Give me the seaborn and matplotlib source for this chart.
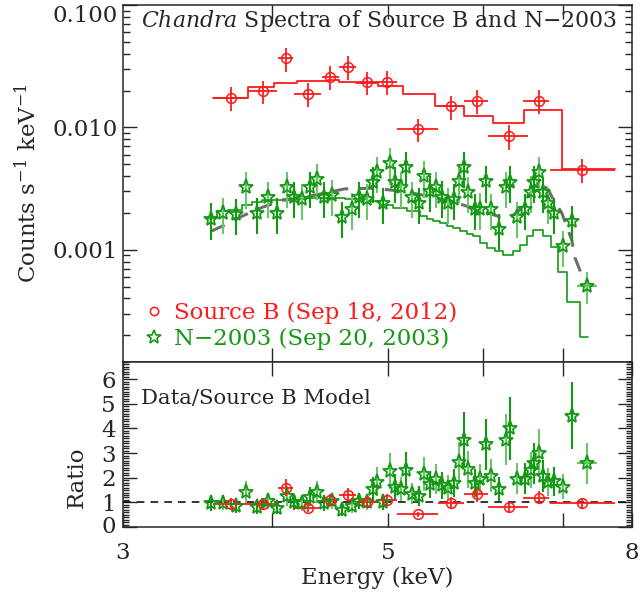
import numpy as np
import pandas as pd
import matplotlib
matplotlib.use("Agg")
import matplotlib.pyplot as plt
import seaborn as sns
from matplotlib.ticker import FixedLocator, FixedFormatter, NullLocator, MultipleLocator, LogLocator, NullFormatter
from matplotlib.lines import Line2D
from matplotlib.transforms import ScaledTranslation

# ---------------- data ----------------
# Source B (red) data points
red_E = [3.694, 3.927, 4.105, 4.283, 4.473, 4.626, 4.801, 4.993, 5.297, 5.644, 5.931, 6.308, 6.692, 7.270]
red_Elo = [3.570, 3.820, 4.042, 4.171, 4.400, 4.549, 4.706, 4.901, 5.084, 5.508, 5.787, 6.065, 6.485, 6.830]
red_Ehi = [3.820, 4.034, 4.165, 4.391, 4.549, 4.700, 4.901, 5.084, 5.508, 5.787, 6.065, 6.551, 6.818, 7.742]
red_flux = [0.01739, 0.01973, 0.03657, 0.01889, 0.02584, 0.03121, 0.02338, 0.0237, 0.00968,
            0.01486, 0.01643, 0.00849, 0.01655, 0.0045]
red_flux_err = [0.0038, 0.0043, 0.0080, 0.0042, 0.0057, 0.0069, 0.0051, 0.0052, 0.0021,
                0.0033, 0.0036, 0.0019, 0.0036, 0.0010]
red_ratio = [0.95, 0.95, 1.60, 0.79, 1.09, 1.30, 1.03, 1.08, 0.51, 0.99, 1.32, 0.80, 1.19, 0.96]
red_ratio_err = [0.21, 0.21, 0.35, 0.17, 0.24, 0.29, 0.23, 0.24, 0.11, 0.22, 0.29, 0.18, 0.26, 0.21]

# Source B model (red step)
red_model_edges = [3.570, 3.815, 4.015, 4.193, 4.456, 4.549, 4.700, 4.901, 5.143, 5.473,
                   5.787, 6.124, 6.497, 6.987, 7.742]
red_model_vals = [0.01739, 0.02156, 0.02295, 0.02396, 0.02428, 0.0237, 0.02295, 0.0218,
                  0.01889, 0.01495, 0.01238, 0.01078, 0.01386, 0.00455]

# N-2003 (green) data points
green_E = [3.552, 3.640, 3.730, 3.803, 3.886, 3.964, 4.039, 4.112, 4.171, 4.238,
           4.302, 4.363, 4.419, 4.488, 4.572, 4.664, 4.727, 4.798, 4.860, 4.898,
           4.954, 5.019, 5.071, 5.126, 5.176, 5.233, 5.304, 5.359, 5.417, 5.484,
           5.544, 5.612, 5.681, 5.736, 5.784, 5.836, 5.908, 5.973, 6.038, 6.093,
           6.188, 6.280, 6.328, 6.406, 6.510, 6.581, 6.628, 6.683, 6.735, 6.805,
           6.879, 7.000, 7.127, 7.336]
green_flux_e3 = [1.80, 2.00, 1.97, 3.24, 2.00, 2.70, 2.00, 3.26, 2.70, 2.60,
                 3.26, 3.80, 2.70, 2.79, 1.85, 2.17, 2.70, 2.60, 3.59, 4.33,
                 2.41, 5.07, 3.56, 3.26, 4.76, 2.70, 2.41, 3.99, 3.01, 3.26,
                 2.72, 2.40, 2.60, 3.63, 4.76, 2.97, 2.16, 2.17, 3.63, 2.16,
                 1.48, 3.26, 3.61, 1.85, 2.16, 2.99, 3.61, 4.33, 2.97, 2.40,
                 2.00, 1.07, 1.72, 0.51]
green_err_e3 = [0.59, 0.66, 0.65, 1.07, 0.66, 0.89, 0.66, 1.08, 0.89, 0.86,
                1.08, 1.25, 0.89, 0.92, 0.61, 0.72, 0.89, 0.86, 1.18, 1.43,
                0.80, 1.67, 1.17, 1.08, 1.57, 0.89, 0.80, 1.32, 0.99, 1.08,
                0.90, 0.79, 0.86, 1.20, 1.57, 0.98, 0.71, 0.72, 1.20, 0.71,
                0.49, 1.08, 1.19, 0.61, 0.71, 0.99, 1.19, 1.43, 0.98, 0.79,
                0.66, 0.35, 0.57, 0.15]
green_xlo = [0.0] * 53 + [0.144]
green_xhi = [0.0] * 53 + [0.147]
green_ratio = [0.96, 0.98, 0.85, 1.42, 0.81, 1.05, 0.76, 1.26, 1.01, 0.96,
               1.23, 1.43, 0.96, 1.05, 0.69, 0.85, 1.05, 1.01, 1.53, 1.84,
               1.01, 2.27, 1.62, 1.55, 2.30, 1.35, 1.26, 2.17, 1.73, 1.93,
               1.69, 1.60, 1.80, 2.63, 3.55, 2.34, 1.80, 1.93, 3.35, 2.09,
               1.55, 3.55, 4.00, 1.96, 1.96, 2.31, 2.58, 3.01, 2.06, 1.82,
               1.86, 1.64, 4.52, 2.58]
green_ratio_err = [0.30, 0.30, 0.28, 0.45, 0.27, 0.33, 0.25, 0.40, 0.32, 0.30,
                   0.39, 0.45, 0.30, 0.33, 0.23, 0.28, 0.33, 0.32, 0.48, 0.58,
                   0.32, 0.72, 0.52, 0.49, 0.73, 0.43, 0.40, 0.69, 0.55, 0.61,
                   0.54, 0.51, 0.57, 0.84, 1.10, 0.74, 0.57, 0.61, 1.05, 0.66,
                   0.49, 1.05, 1.27, 0.62, 0.62, 0.73, 0.82, 0.95, 0.65, 0.58,
                   0.59, 0.52, 1.35, 0.82]

# Source B model folded with N-2003 response (green step)
green_model_edges = [3.527, 3.596, 3.673, 3.773, 3.847, 3.922, 4.084, 4.260, 4.601, 4.801,
                     4.923, 5.048, 5.186, 5.317, 5.390, 5.452, 5.526, 5.601, 5.666, 5.743,
                     5.821, 5.889, 5.969, 6.050, 6.144, 6.240, 6.361, 6.447, 6.535, 6.611,
                     6.739, 6.844, 6.937, 7.058, 7.237, 7.350]
green_model_e3 = [1.819, 2.060, 2.099, 2.338, 2.460, 2.570, 2.618, 2.653, 2.594, 2.488,
                  2.338, 2.197, 2.060, 1.900, 1.795, 1.729, 1.655, 1.573, 1.495, 1.431,
                  1.352, 1.285, 1.141, 1.038, 0.968, 0.898, 0.968, 1.099, 1.285, 1.439,
                  1.302, 1.044, 0.657, 0.375, 0.194]

# Best-fit model to N-2003 (grey dashed)
fit_E = [3.552, 3.640, 3.783, 3.931, 4.086, 4.260, 4.456, 4.601, 4.721, 4.845,
         5.051, 5.267, 5.491, 5.707, 5.969, 6.204, 6.345, 6.447, 6.509, 6.594,
         6.658, 6.726, 6.808, 6.874, 6.987, 7.054, 7.122, 7.168, 7.261]
fit_e3 = [1.413, 1.573, 1.900, 2.239, 2.535, 2.684, 2.949, 3.145, 3.162, 3.180,
          3.062, 2.877, 2.653, 2.414, 2.099, 1.854, 1.875, 2.128, 2.414, 3.005,
          3.522, 3.410, 3.103, 2.570, 1.999, 1.552, 1.208, 0.855, 0.624]

# ---------------- style ----------------
sns.set_style("ticks")
plt.rcParams["font.family"] = ["DejaVu Serif"]
plt.rcParams["mathtext.fontset"] = "dejavuserif"

RED = "#ff1a1a"
GREEN = "#139913"
GREEN_L = "#6cc46c"
FS = 16.5

fig = plt.figure(figsize=(6.41, 5.98), dpi=100)
ax1 = fig.add_axes([0.1919, 0.39465, 0.7941, 0.59699])
ax2 = fig.add_axes([0.1919, 0.11873, 0.7941, 0.27592])

red_E_a = np.array(red_E)
red_xerr = [red_E_a - np.array(red_Elo), np.array(red_Ehi) - red_E_a]
green_flux = np.array(green_flux_e3) * 1e-3
green_err = np.array(green_err_e3) * 1e-3
green_xerr = np.array([green_xlo, green_xhi])

# ---- top panel ----
red_model_df = pd.DataFrame({"E": red_model_edges, "flux": red_model_vals + [red_model_vals[-1]]})
green_model_df = pd.DataFrame({"E": green_model_edges,
                               "flux": (np.array(green_model_e3 + [green_model_e3[-1]]) * 1e-3)})
fit_df = pd.DataFrame({"E": fit_E, "flux": np.array(fit_e3) * 1e-3})

sns.lineplot(data=red_model_df, x="E", y="flux", ax=ax1, color=RED, lw=1.3,
             drawstyle="steps-post", estimator=None, sort=False)
sns.lineplot(data=green_model_df, x="E", y="flux", ax=ax1, color=GREEN, lw=1.2,
             drawstyle="steps-post", estimator=None, sort=False)
sns.lineplot(data=fit_df, x="E", y="flux", ax=ax1, color="#6e6e6e", lw=2.2,
             estimator=None, sort=False, dashes=False, linestyle=(0, (5, 3.5)))

idx = np.arange(len(green_E))
for sel, col in ((idx % 2 == 0, GREEN), (idx % 2 == 1, GREEN_L)):
    ax1.errorbar(np.array(green_E)[sel], green_flux[sel], yerr=green_err[sel],
                 xerr=green_xerr[:, sel], fmt="none", ecolor=col, elinewidth=1.5, capsize=0)
ax1.errorbar(green_E, green_flux, fmt="*", ms=11, mfc="none", mec=GREEN, mew=1.3, ls="none")

ax1.errorbar(red_E, red_flux, yerr=red_flux_err, xerr=red_xerr, fmt="o", ms=7,
             mfc="none", mec=RED, mew=1.1, ecolor=RED, elinewidth=1.3, capsize=0)

ax1.set_xscale("log")
ax1.set_yscale("log")
ax1.set_xlim(3, 8)
ax1.set_ylim(1.21e-4, 0.1)
ax1.yaxis.set_major_locator(FixedLocator([0.001, 0.01, 0.1]))
ax1.yaxis.set_major_formatter(FixedFormatter(["0.001", "0.010", "0.100"]))
ax1.yaxis.set_minor_locator(LogLocator(base=10, subs=np.arange(2, 10)))
ax1.yaxis.set_minor_formatter(NullFormatter())
ax1.xaxis.set_major_locator(FixedLocator([4, 5, 6, 7]))
ax1.xaxis.set_minor_locator(NullLocator())
ax1.set_xticklabels([])
ax1.set_xlabel("")
ax1.set_ylabel(r"Counts s$^{-1}$ keV$^{-1}$", fontsize=FS)
ax1.yaxis.set_label_coords(-0.161, 0.50)

ax1.text(0.035, 0.955, r"$\mathit{Chandra}$ Spectra of Source B and N$-$2003",
         transform=ax1.transAxes, fontsize=15.8, va="center", ha="left")

handles = [Line2D([], [], ls="none", marker="o", ms=6, mfc="none", mec=RED, mew=1.1),
           Line2D([], [], ls="none", marker="*", ms=10, mfc="none", mec=GREEN, mew=1.2)]
leg = ax1.legend(handles, ["Source B (Sep 18, 2012)", "N\u22122003 (Sep 20, 2003)"],
                 loc="lower left", bbox_to_anchor=(0.012, -0.012), frameon=False,
                 fontsize=16.5, handlelength=0.8, handletextpad=0.45, labelspacing=0.2,
                 borderaxespad=0.3)
for t, c in zip(leg.get_texts(), [RED, GREEN]):
    t.set_color(c)

# ---- bottom panel ----
ax2.axhline(1.0, color="black", lw=1.1, ls=(0, (5, 4)))
for sel, col in ((idx % 2 == 0, GREEN), (idx % 2 == 1, GREEN_L)):
    ax2.errorbar(np.array(green_E)[sel], np.array(green_ratio)[sel],
                 yerr=np.array(green_ratio_err)[sel], xerr=green_xerr[:, sel],
                 fmt="none", ecolor=col, elinewidth=1.5, capsize=0)
ax2.errorbar(green_E, green_ratio, fmt="*", ms=11, mfc="none", mec=GREEN, mew=1.3, ls="none")
ax2.errorbar(red_E, red_ratio, yerr=red_ratio_err, xerr=red_xerr, fmt="o", ms=7,
             mfc="none", mec=RED, mew=1.1, ecolor=RED, elinewidth=1.3, capsize=0)

ax2.set_xscale("log")
ax2.set_xlim(3, 8)
ax2.set_ylim(0, 6.7)
ax2.yaxis.set_major_locator(FixedLocator([0, 1, 2, 3, 4, 5, 6]))
ax2.yaxis.set_minor_locator(MultipleLocator(0.1))
ax2.xaxis.set_major_locator(FixedLocator([3, 4, 5, 6, 7, 8]))
ax2.xaxis.set_major_formatter(FixedFormatter(["3", "", "5", "", "", "8"]))
ax2.xaxis.set_minor_locator(NullLocator())
ax2.set_xlabel("Energy (keV)", fontsize=FS)
ax2.xaxis.set_label_coords(0.50, -0.24)
ax2.set_ylabel("Ratio", fontsize=FS)
ax2.yaxis.set_label_coords(-0.069, 0.30)
ax2.text(0.035, 0.78, "Data/Source B Model", transform=ax2.transAxes,
         fontsize=15.3, va="center", ha="left")

for ax in (ax1, ax2):
    ax.tick_params(which="both", direction="in", top=True, right=True, labelsize=FS, width=1)
    ax.tick_params(which="major", length=10)
    ax.tick_params(which="minor", length=5)
    for s in ax.spines.values():
        s.set_linewidth(1.1)
ax2.tick_params(axis="x", which="major", pad=11)
ax2.tick_params(axis="y", which="minor", length=4)
ax2.tick_params(axis="y", which="major", pad=5)

# keep the extreme tick labels inside the panel extents, as in the reference
ax1.yaxis.get_major_ticks()[2].label1.set_verticalalignment("top")
zero_lab = ax2.yaxis.get_major_ticks()[0].label1
zero_lab.set_transform(zero_lab.get_transform() + ScaledTranslation(0, 1.6 / 72, fig.dpi_scale_trans))

fig.savefig("out.png", dpi=100)
